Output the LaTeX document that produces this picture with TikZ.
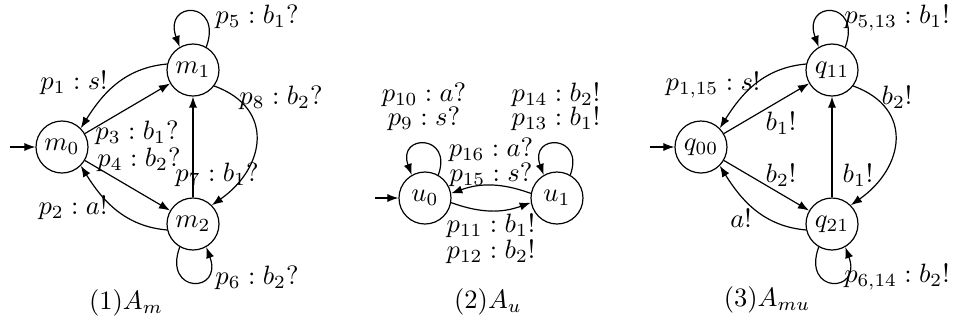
\documentclass[tikz,border=0pt]{standalone}
\usetikzlibrary{arrows.meta}
\begin{document}
\begin{tikzpicture}[x=0.377pt,y=0.377pt,line width=0.45pt,
  state/.style={circle,draw,minimum size=19.6pt,inner sep=0pt},
  tr/.style={-{Latex[length=4.2pt,width=3.1pt]}},
  lbl/.style={inner sep=0pt}]
\useasboundingbox (0,0) rectangle (953,-323);

% ---------- (1) A_m ----------
\node[state] (m0) at (62,-147) {$m_0$};
\node[state] (m1) at (193,-70) {$m_1$};
\node[state] (m2) at (193,-224) {$m_2$};
\coordinate (m0in) at (10,-147);
\draw[tr] (m0in) -- (m0);
\draw[tr] (m1.60) .. controls +(70:50) and +(110:50) .. (m1.120);
\draw[tr] (m2.240) .. controls +(250:50) and +(290:50) .. (m2.300);
\draw[tr] (m1.167) to[out=185,in=58] (m0.45);
\draw[tr] (m0) -- (m1);
\draw[tr] (m0) -- (m2);
\draw[tr] (m2.193) to[out=175,in=302] (m0.315);
\draw[tr] (m2) -- (m1);
\draw[tr] (m1.323) to[out=340,in=35,looseness=1.4] (m2.45);

\node[lbl] (l5) at (257,-17) {$p_5 : b_1?$};
\node[lbl] (l1) at (74,-83) {$p_1 : s!$};
\node[lbl] (l8) at (281,-98) {$p_8 : b_2?$};
\node[lbl] (l3) at (137,-133) {$p_3 : b_1?$};
\node[lbl] (l4) at (139,-160) {$p_4 : b_2?$};
\node[lbl] (l7) at (217,-175) {$p_7 : b_1?$};
\node[lbl] (l2) at (73,-208) {$p_2 : a!$};
\node[lbl] (l6) at (257,-278) {$p_6 : b_2?$};
\node[lbl] (cap1) at (126,-303) {$(1)A_m$};

% ---------- (2) A_u ----------
\node[state] (u0) at (425,-198) {$u_0$};
\node[state] (u1) at (557,-198) {$u_1$};
\coordinate (u0in) at (375,-198);
\draw[tr] (u0in) -- (u0);
\draw[tr] (u0.60) .. controls +(70:44) and +(110:44) .. (u0.120);
\draw[tr] (u1.60) .. controls +(70:44) and +(110:44) .. (u1.120);
\draw[tr] (u1.170) to[out=160,in=20] (u0.10);
\draw[tr] (u0.350) to[out=340,in=200] (u1.190);

\node[lbl] (l10) at (424,-95) {$p_{10} : a?$};
\node[lbl] (l9) at (424,-119) {$p_9 : s?$};
\node[lbl] (l14) at (556,-95) {$p_{14} : b_2!$};
\node[lbl] (l13) at (556,-119) {$p_{13} : b_1!$};
\node[lbl] (l16) at (491,-150) {$p_{16} : a?$};
\node[lbl] (l15) at (491,-175) {$p_{15} : s?$};
\node[lbl] (l11) at (491,-226) {$p_{11} : b_1!$};
\node[lbl] (l12) at (491,-252) {$p_{12} : b_2!$};
\node[lbl] (cap2) at (488,-302) {$(2)A_u$};

% ---------- (3) A_mu ----------
\node[state] (q00) at (701,-147) {$q_{00}$};
\node[state] (q11) at (832,-70) {$q_{11}$};
\node[state] (q21) at (832,-224) {$q_{21}$};
\coordinate (q00in) at (650,-147);
\draw[tr] (q00in) -- (q00);
\draw[tr] (q11.60) .. controls +(70:50) and +(110:50) .. (q11.120);
\draw[tr] (q21.240) .. controls +(250:50) and +(290:50) .. (q21.300);
\draw[tr] (q11.167) to[out=185,in=58] (q00.45);
\draw[tr] (q00) -- (q11);
\draw[tr] (q00) -- (q21);
\draw[tr] (q21.193) to[out=175,in=302] (q00.315);
\draw[tr] (q21) -- (q11);
\draw[tr] (q11.323) to[out=340,in=35,looseness=1.4] (q21.45);

\node[lbl] (k5) at (897,-18) {$p_{5,13} : b_1!$};
\node[lbl] (k1) at (713,-85) {$p_{1,15} : s!$};
\node[lbl] (k3) at (781,-123) {$b_1!$};
\node[lbl] (k4) at (781,-175) {$b_2!$};
\node[lbl] (k2) at (741,-218) {$a!$};
\node[lbl] (k7) at (858,-175) {$b_1!$};
\node[lbl] (k8) at (897,-97) {$b_2!$};
\node[lbl] (k6) at (897,-277) {$p_{6,14} : b_2!$};
\node[lbl] (cap3) at (767,-300) {$(3)A_{mu}$};
\end{tikzpicture}
\end{document}
